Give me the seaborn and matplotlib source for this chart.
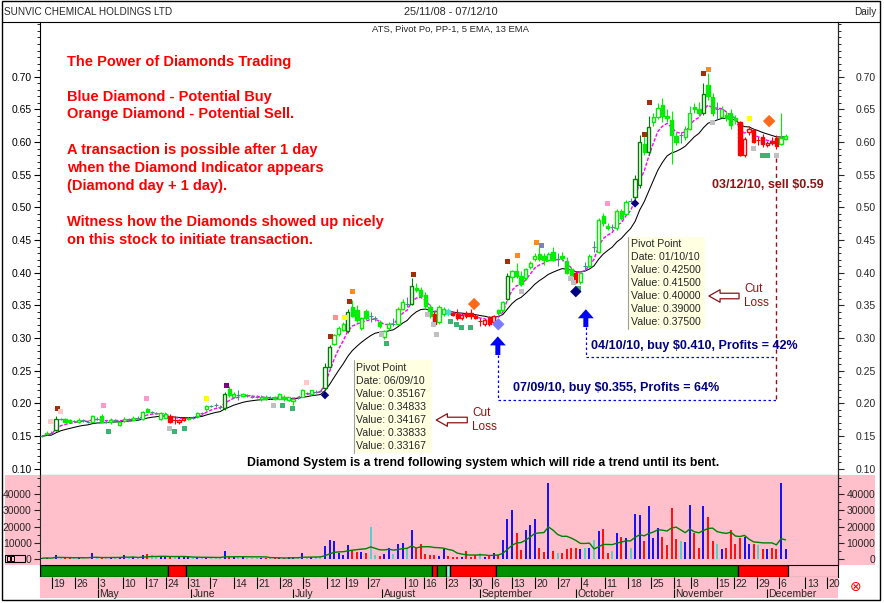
import numpy as np
import pandas as pd
import matplotlib
matplotlib.use("Agg")
import matplotlib.pyplot as plt
from matplotlib.patches import Rectangle
from matplotlib.lines import Line2D
from matplotlib.ticker import MultipleLocator, FixedLocator, FormatStrFormatter
import seaborn as sns

# daily candles, one per trading day (15/04/10 .. 07/12/10)
opens = [
    .149, .153, .155, .159, .176, .176, .175, .173, .171, .174,
    .172, .172, .176, .180, .172, .171, .174, .167, .173, .176,
    .175, .178, .176, .191, .186, .185, .176, .178, .180, .175,
    .171, .175, .176, .178, .180, .185, .191, .196, .197, .195,
    .193, .222, .210, .212, .211, .212, .210, .210, .206, .210,
    .208, .209, .207, .210, .205, .203, .209, .210, .216, .214,
    .218, .219, .223, .256, .291, .306, .313, .310, .347, .343,
    .315, .342, .333, .330, .325, .302, .316, .322, .322, .345,
    .352, .352, .377, .374, .366, .348, .336, .324, .336, .343,
    .338, .336, .331, .338, .338, .334, .326, .322, .331, .325,
    .343, .343, .360, .394, .403, .395, .392, .409, .421, .428,
    .426, .420, .432, .421, .426, .418, .405, .400, .385, .410,
    .410, .440, .432, .487, .472, .470, .468, .494, .490, .510,
    .516, .534, .597, .585, .631, .638, .657, .640, .634, .609,
    .610, .607, .620, .654, .651, .644, .688, .669, .650, .639,
    .641, .644, .637, .631, .580, .615, .618, .603, .607, .595,
    .602, .606, .597, .605,
]
highs = [
    .151, .157, .158, .180, .178, .178, .176, .175, .177, .176,
    .174, .182, .179, .184, .175, .177, .176, .173, .179, .178,
    .180, .181, .188, .193, .188, .187, .187, .186, .184, .180,
    .176, .178, .179, .180, .186, .187, .198, .198, .200, .198,
    .218, .226, .217, .220, .216, .214, .212, .212, .212, .212,
    .211, .211, .216, .212, .210, .208, .211, .222, .218, .221,
    .220, .221, .262, .290, .306, .318, .324, .345, .358, .350,
    .332, .345, .340, .333, .327, .313, .324, .330, .348, .360,
    .362, .392, .384, .378, .370, .352, .340, .350, .348, .346,
    .340, .344, .338, .342, .345, .336, .330, .329, .334, .335,
    .345, .357, .400, .404, .415, .402, .407, .418, .430, .446,
    .430, .432, .440, .430, .432, .424, .408, .403, .403, .416,
    .428, .448, .484, .492, .476, .475, .498, .498, .512, .515,
    .550, .610, .612, .640, .645, .660, .668, .650, .647, .615,
    .615, .625, .655, .660, .662, .690, .705, .675, .662, .655,
    .648, .650, .642, .632, .607, .625, .620, .608, .612, .602,
    .607, .610, .644, .612,
]
lows = [
    .148, .152, .153, .157, .174, .171, .171, .171, .170, .172,
    .170, .171, .174, .171, .170, .169, .172, .165, .172, .175,
    .174, .176, .175, .186, .184, .183, .175, .177, .170, .168,
    .169, .173, .175, .176, .178, .183, .189, .194, .195, .192,
    .190, .210, .208, .205, .209, .210, .208, .208, .204, .205,
    .206, .205, .206, .204, .203, .197, .207, .209, .214, .213,
    .216, .217, .221, .254, .289, .303, .311, .308, .332, .325,
    .312, .328, .325, .326, .316, .298, .313, .318, .320, .343,
    .348, .350, .370, .362, .345, .330, .318, .322, .333, .334,
    .333, .328, .328, .330, .329, .329, .318, .318, .318, .323,
    .335, .341, .358, .385, .392, .380, .389, .405, .418, .418,
    .412, .418, .418, .410, .418, .398, .392, .384, .383, .402,
    .408, .432, .430, .472, .465, .466, .466, .480, .488, .506,
    .513, .530, .580, .580, .625, .635, .630, .630, .566, .595,
    .598, .603, .618, .645, .640, .642, .665, .640, .635, .636,
    .632, .620, .628, .578, .577, .610, .598, .595, .592, .592,
    .595, .590, .595, .603,
]
closes = [
    .150, .155, .155, .176, .176, .172, .172, .173, .175, .174,
    .172, .180, .176, .172, .172, .175, .174, .172, .176, .176,
    .178, .178, .186, .187, .186, .185, .185, .184, .172, .175,
    .175, .177, .178, .178, .185, .185, .196, .196, .197, .195,
    .215, .212, .215, .212, .215, .212, .210, .210, .209, .207,
    .208, .207, .214, .206, .209, .206, .209, .220, .216, .220,
    .218, .219, .255, .286, .305, .315, .321, .340, .334, .327,
    .330, .330, .333, .330, .318, .311, .322, .322, .345, .355,
    .352, .380, .373, .365, .349, .333, .322, .348, .344, .337,
    .335, .331, .335, .333, .333, .330, .326, .327, .322, .333,
    .338, .355, .395, .402, .395, .383, .405, .415, .426, .421,
    .420, .428, .420, .421, .422, .400, .395, .386, .400, .410,
    .425, .440, .480, .476, .468, .470, .495, .484, .508, .510,
    .544, .600, .585, .623, .639, .652, .640, .637, .611, .600,
    .610, .620, .644, .651, .645, .674, .670, .645, .650, .650,
    .636, .626, .633, .580, .605, .620, .600, .603, .597, .599,
    .598, .594, .606, .609,
]
volumes = [
    500, 800, 300, 2500, 600, 800, 500, 400, 1000, 400,
    300, 3500, 500, 1000, 600, 800, 500, 1000, 2500, 600,
    1200, 800, 2500, 3000, 2500, 1000, 1500, 1000, 1000, 1000,
    1000, 1000, 1200, 800, 1500, 800, 1000, 600, 800, 700,
    5000, 1000, 1500, 1500, 1000, 500, 800, 600, 500, 600,
    800, 500, 600, 700, 1000, 1500, 1000, 3500, 1000, 1200,
    1500, 1000, 8000, 11500, 11000, 4000, 2500, 8500, 5500, 4500,
    4500, 3500, 19500, 2500, 2000, 3000, 7000, 3000, 9000, 10000,
    6500, 18000, 7000, 9500, 3000, 2500, 2500, 2000, 6000, 2000,
    1000, 1000, 1000, 5000, 1500, 2500, 3500, 1500, 2500, 3500,
    2500, 11800, 25000, 30000, 16000, 5500, 18000, 21000, 24500, 7000,
    4500, 47000, 5000, 3500, 4000, 6000, 7000, 6500, 6000, 6500,
    6500, 11500, 17500, 18500, 4000, 5000, 16000, 13500, 12800, 7000,
    28000, 27500, 11000, 33000, 12800, 19000, 13500, 8500, 31500, 12300,
    11000, 10300, 33500, 16000, 6500, 33000, 26000, 11000, 9500, 6000,
    6500, 18000, 9500, 12800, 13500, 9500, 9300, 8500, 6000, 6000,
    6500, 6000, 47000, 6000,
]

# trend state (ATS): g = up, r = down, a = neutral
candle_runs = [("g", 28), ("r", 4), ("g", 54), ("r", 1), ("g", 2), ("a", 1), ("r", 10),
               ("g", 17), ("r", 1), ("g", 35), ("r", 9), ("g", 2)]
band_runs = [("g", 28), ("r", 4), ("g", 54), ("r", 1), ("g", 2), ("a", 1), ("r", 10),
             ("g", 53), ("r", 11)]
dark_candles = [3, 40, 62, 63, 67, 81, 102, 130, 131, 133, 145]

# pivot markers
mark_slots = [3.3, 4.1, 1.9, 13.5, 14.6, 22.8, 27.9, 29.1, 31.1, 36.1,
              40.4, 50.6, 52.6, 54.8, 57.9, 63.1, 64.2, 66.2, 67.3, 68.0,
              74.3, 75.4, 81.5, 84.5, 85.7, 86.5, 89.5, 90.8, 91.9, 93.8,
              102.1, 104.3, 105.2, 108.4, 109.5, 115.8, 116.5, 117.7, 123.9, 132.1,
              133.2, 145.1, 146.0, 147.0, 155.0, 156.0, 158.0, 159.0, 161.0]
mark_prices = [.192, .188, .172, .197, .157, .208, .162, .157, .162, .208,
               .2276, .197, .197, .192, .232, .3026, .332, .332, .356, .3715,
               .3057, .292, .3975, .336, .3214, .3057, .326, .3214, .3164, .3164,
               .4174, .427, .3715, .4465, .442, .391, .3853, .3755, .506, .612,
               .661, .705, .711, .630, .636, .590, .580, .580, .580]
mark_kinds = ["brown", "lpink", "lpink", "pink", "sgreen", "pink", "grey", "sgreen", "sgreen", "yellow",
              "purple", "grey", "sgreen", "sgreen", "lpink", "brown", "salmon", "yellow", "brown", "orange",
              "grey", "sgreen", "brown", "grey", "grey", "grey", "sgreen", "sgreen", "sgreen", "sgreen",
              "brown", "orange", "grey", "orange", "slate", "grey", "grey", "sgreen", "pink", "brown",
              "brown", "brown", "orange", "grey", "yellow", "grey", "sgreen", "sgreen", "grey"]

# diamond signals
diamond_slots = [62, 100, 117, 130, 94.7, 159.4]
diamond_prices = [.2125, .321, .371, .506, .352, .632]
diamond_kinds = ["buy", "buy_light", "buy", "buy", "sell", "sell"]
diamond_sizes = [18, 40, 34, 18, 40, 40]

week_labels = ["19", "26", "3", "10", "17", "24", "31", "7", "14", "21", "28", "5", "12", "19",
               "27", "10", "16", "23", "30", "6", "13", "20", "27", "4", "11", "18", "25", "1",
               "8", "15", "22", "29", "6", "13", "20"]
week_slots = [2.1, 7.2, 12.2, 17.6, 22.7, 27.1, 32.0, 36.8, 42.0, 47.0, 52.1, 57.2, 62.5, 66.6,
              71.5, 79.6, 83.7, 88.5, 93.8, 98.6, 103.0, 108.1, 113.1, 118.1, 123.4, 128.5, 133.5,
              138.5, 142.3, 147.9, 151.7, 156.7, 161.6, 167.3, 172.1]
month_labels = ["May", "June", "July", "August", "September", "October", "November", "December"]
month_slots = [12.2, 32.6, 55.0, 74.5, 96.0, 117.1, 138.5, 158.9]

price_ticks = [0.10, 0.15, 0.20, 0.25, 0.30, 0.35, 0.40, 0.45, 0.50, 0.55, 0.60, 0.65, 0.70]
volume_ticks = [0, 10000, 20000, 30000, 40000]

notes = ["The Power of Diamonds Trading", "Blue Diamond - Potential Buy",
         "Orange Diamond - Potential Sell.", "A transaction is possible after 1 day",
         "when the Diamond Indicator appears", "(Diamond day + 1 day).",
         "Witness how the Diamonds showed up nicely", "on this stock to initiate transaction."]
note_y = [.7225, .669, .643, .5878, .5602, .5327, .4776, .450]
pivot1 = ["Pivot Point", "Date: 06/09/10", "Value: 0.35167", "Value: 0.34833",
          "Value: 0.34167", "Value: 0.33833", "Value: 0.33167"]
pivot2 = ["Pivot Point", "Date: 01/10/10", "Value: 0.42500", "Value: 0.41500",
          "Value: 0.40000", "Value: 0.39000", "Value: 0.37500"]

COL = {"g": "#00ee00", "r": "#ff0000", "a": "#40e0d0"}
BAND = {"g": "#009000", "r": "#ff0000", "a": "#80ffd8"}
MARK_COL = {"brown": "#a03008", "lpink": "#ffc8c8", "pink": "#ff99cc", "salmon": "#ff9090",
            "sgreen": "#3cb371", "grey": "#c0c0c0", "yellow": "#ffff00", "purple": "#800080",
            "orange": "#ff8c1a", "slate": "#8080c0"}
DIA_COL = {"buy": "#000080", "buy_light": "#7b7bff", "sell": "#ff6a1a"}
PINK = "#ffc0cb"
MAROON = "#8b1414"
NAVY = "#000080"


def expand(runs):
    out = []
    for s, n in runs:
        out += [s] * n
    return out


df = pd.DataFrame({"open": opens, "high": highs, "low": lows, "close": closes, "volume": volumes})
df["slot"] = np.arange(len(df))
df["state"] = expand(candle_runs)
df["ema5"] = df["close"].ewm(span=5, adjust=False).mean()
df["ema13"] = df["close"].ewm(span=13, adjust=False).mean()
df["vol_ma"] = df["volume"].rolling(10, min_periods=1).mean()
body = df["close"] - df["open"]
doji = body.abs() < 0.0015

edge = []
for i, r in df.iterrows():
    if doji[i] and r["state"] == "g":
        edge.append("#4a8a8a")
    elif r["state"] == "g" and i in dark_candles:
        edge.append("#008000")
    else:
        edge.append(COL[r["state"]])
df["edge"] = edge
df["fill"] = np.where(df["close"] < df["open"], df["edge"], "white")
df["vcol"] = np.where(df["close"] > df["open"], "#0000ff",
                      np.where(df["close"] < df["open"], "#ff0000", "#48d1cc"))

sns.set_theme(style="white")
plt.rcParams["font.family"] = ["Liberation Sans", "DejaVu Sans"]
plt.rcParams["axes.linewidth"] = 0.8

W, H = 884, 603
fig = plt.figure(figsize=(W / 100, H / 100), dpi=100)


def px_axes(x0, y0, x1, y1):
    return fig.add_axes([x0 / W, 1 - y1 / H, (x1 - x0) / W, (y1 - y0) / H])


XLIM = (-0.5, 174.5)

# ---------------- price panel ----------------
ax = px_axes(40, 22, 838, 475)
ax.set_xlim(*XLIM)
ax.set_ylim(0.0903, 0.7837)

sns.lineplot(data=df, x="slot", y="ema13", color="black", lw=0.75, ax=ax, zorder=2)
sns.lineplot(data=df, x="slot", y="ema5", color="#ff00ff", lw=1.0, ax=ax, zorder=2,
             linestyle=(0, (2.5, 1.2)))

ax.vlines(df["slot"], df["low"], df["high"], colors=df["edge"], lw=0.8, zorder=3)
nd = ~doji
ax.bar(df["slot"][nd], body.abs()[nd], bottom=np.minimum(df["open"], df["close"])[nd],
       width=0.72, color=df["fill"][nd], edgecolor=df["edge"][nd], linewidth=1.0, zorder=4)
ax.hlines(df["close"][doji], df["slot"][doji] - 0.45, df["slot"][doji] + 0.45,
          colors=df["edge"][doji], lw=0.8, zorder=4)

sns.scatterplot(x=mark_slots, y=mark_prices, hue=mark_kinds, palette=MARK_COL, marker="s",
                s=13, linewidth=0, legend=False, ax=ax, zorder=5)
sns.scatterplot(x=diamond_slots, y=diamond_prices, hue=diamond_kinds, palette=DIA_COL,
                size=diamond_sizes, sizes=(18, 40), marker="D", linewidth=0, legend=False,
                ax=ax, zorder=6)

ax.set_xlabel("")
ax.set_ylabel("")
ax.set_xticks([])
ax.yaxis.set_major_locator(FixedLocator(price_ticks))
ax.yaxis.set_minor_locator(MultipleLocator(0.01))
ax.yaxis.set_major_formatter(FormatStrFormatter("%.2f"))
ax.tick_params(axis="y", which="major", left=True, length=4, width=0.8, pad=2,
               labelsize=7.5, colors="black", direction="out")
ax.tick_params(axis="y", which="minor", left=True, length=2, width=0.7, direction="out")
ax.spines["top"].set_visible(False)
for s in ("left", "right", "bottom"):
    ax.spines[s].set_color("black")

axr = ax.twinx()
axr.set_ylim(ax.get_ylim())
axr.yaxis.set_major_locator(FixedLocator(price_ticks))
axr.yaxis.set_minor_locator(MultipleLocator(0.01))
axr.yaxis.set_major_formatter(FormatStrFormatter("%.2f"))
axr.tick_params(axis="y", which="major", right=True, length=4, width=0.8, pad=23,
                labelsize=7.5, direction="out")
axr.tick_params(axis="y", which="minor", right=True, length=2, width=0.7, direction="out")
for t in axr.get_yticklabels():
    t.set_ha("right")
for s in ("top", "left", "bottom"):
    axr.spines[s].set_visible(False)
axr.grid(False)

# text notes
for line, yv in zip(notes, note_y):
    ax.text(5.4, yv, line, color="red", fontsize=10.5, fontweight="bold", va="center", zorder=7)
ax.text(96.7, 0.1087, "Diamond System is a trend following system which will ride a trend until its bent.",
        fontsize=8.8, fontweight="bold", ha="center", va="center", color="black", zorder=7)

# pivot boxes
for (x0, x1, y0, y1, y_first, lines) in [(68.4, 85.5, .124, .2663, .2536, pivot1),
                                         (128.5, 145.3, .3142, .4541, .4439, pivot2)]:
    ax.add_patch(Rectangle((x0, y0), x1 - x0, y1 - y0, facecolor="#ffffe1", edgecolor="none", zorder=6))
    ax.plot([x0, x0], [y0, y1], color="#a0a0a0", lw=0.8, zorder=6)
    for k, line in enumerate(lines):
        ax.text(x0 + 0.5, y_first - k * 0.0199, line, fontsize=7.6, va="center", zorder=7)

# cut loss arrows
for tip, tail, ytxt in [((86.4, .1745), (93.2, .1745), (.1852, .1638)),
                        ((146.2, .3643), (152.8, .3643), (.375, .3536))]:
    ax.annotate("", xy=tip, xytext=tail,
                arrowprops=dict(facecolor="white", edgecolor=MAROON, width=4.0, headwidth=9,
                                headlength=8, lw=0.9), zorder=7)
    ax.text(tail[0] + 1.1, ytxt[0], "Cut", color=MAROON, fontsize=8.5, va="center", zorder=7)
    ax.text(tail[0] + 1.1, ytxt[1], "Loss", color=MAROON, fontsize=8.5, va="center", zorder=7)

# buy arrows and trade lines
for xa, ytip, ytail, yline in [(99.9, .3025, .274, .2055), (119.2, .344, .3168, .271)]:
    ax.annotate("", xy=(xa, ytip), xytext=(xa, ytail),
                arrowprops=dict(facecolor="#0000ff", edgecolor="#0000ff", width=3.6, headwidth=11.5,
                                headlength=6.5, lw=0), zorder=7)
    ax.plot([xa, xa, 160.9], [ytail, yline, yline], color="#0000ff", lw=0.9,
            linestyle=(0, (2, 2)), zorder=6)
ax.plot([160.9, 160.9], [.575, .2055], color=MAROON, lw=1.0, linestyle=(0, (3, 2.5)), zorder=6)
ax.text(146.9, .534, "03/12/10, sell $0.59", color=MAROON, fontsize=9, fontweight="bold",
        va="center", zorder=7)
ax.text(120.3, .2878, "04/10/10, buy $0.410, Profits = 42%", color=NAVY, fontsize=9,
        fontweight="bold", va="center", zorder=7)
ax.text(103.3, .223, "07/09/10, buy $0.355, Profits = 64%", color=NAVY, fontsize=9,
        fontweight="bold", va="center", zorder=7)

# ---------------- volume panel ----------------
fig.add_artist(Rectangle((5 / W, 1 - 565 / H), 870 / W, 90 / H, transform=fig.transFigure,
                         facecolor=PINK, edgecolor="none", zorder=0))
av = px_axes(40, 475, 838, 565)
av.set_facecolor(PINK)
av.set_xlim(*XLIM)
av.set_ylim(-3709, 51932)
av.vlines(df["slot"], 0, df["volume"], colors=df["vcol"], lw=1.3, zorder=3)
sns.lineplot(data=df, x="slot", y="vol_ma", color="#008000", lw=1.0, ax=av, zorder=4)
av.set_xlabel("")
av.set_ylabel("")
av.set_xticks([])
av.set_yticks(volume_ticks)
av.yaxis.set_minor_locator(MultipleLocator(5000))
av.tick_params(axis="y", which="major", left=True, length=4, width=0.8, pad=2, labelsize=7.5,
               direction="out")
av.tick_params(axis="y", which="minor", left=True, length=2, width=0.7, direction="out")
av.spines["top"].set_visible(False)
av.spines["bottom"].set_visible(False)

avr = av.twinx()
avr.set_ylim(av.get_ylim())
avr.set_yticks(volume_ticks)
avr.yaxis.set_minor_locator(MultipleLocator(5000))
avr.tick_params(axis="y", which="major", right=True, length=4, width=0.8, pad=23, labelsize=7.5,
                direction="out")
avr.tick_params(axis="y", which="minor", right=True, length=2, width=0.7, direction="out")
for t in avr.get_yticklabels():
    t.set_ha("right")
for s in ("top", "left", "bottom"):
    avr.spines[s].set_visible(False)
avr.grid(False)

# ---------------- trend band and date rows ----------------
ab = px_axes(40, 565, 838, 577)
ab.set_facecolor(PINK)
ab.set_xlim(*XLIM)
ab.set_ylim(0, 1)
start = -0.5
for s, n in band_runs:
    ab.add_patch(Rectangle((start, 0), n, 1, facecolor=BAND[s], edgecolor="black", lw=0.9))
    start += n
ab.set_xticks([])
ab.set_yticks([])
for s in ab.spines.values():
    s.set_color("black")

ad = px_axes(40, 577, 838, 589)
ad.set_facecolor(PINK)
ad.set_xlim(*XLIM)
ad.set_ylim(0, 1)
ad.vlines(week_slots, 0, 1, colors="black", lw=0.8)
for lab, xs in zip(week_labels, week_slots):
    ad.text(xs + 0.35, 0.45, lab, fontsize=7.5, va="center", ha="left")
ad.set_xticks([])
ad.set_yticks([])
for s in ad.spines.values():
    s.set_visible(False)

am = px_axes(40, 589, 838, 598)
am.set_facecolor(PINK)
am.set_xlim(*XLIM)
am.set_ylim(0, 1)
am.vlines(month_slots, 0, 1, colors="black", lw=0.8)
for lab, xs in zip(month_labels, month_slots):
    am.text(xs + 0.35, 0.45, lab, fontsize=7.5, va="center", ha="left")
am.set_xticks([])
am.set_yticks([])
for s in am.spines.values():
    s.set_visible(False)

# ---------------- frame and header ----------------
fig.add_artist(Rectangle((2 / W, 1 - 600 / H), 878 / W, 599 / H, transform=fig.transFigure,
                         fill=False, edgecolor="black", lw=1.0))
fig.add_artist(Line2D([2 / W, 880 / W], [1 - 22 / H] * 2, color="black", lw=0.8))
fig.text(4 / W, 1 - 12 / H, "SUNVIC CHEMICAL HOLDINGS LTD", fontsize=7.2, va="center")
fig.text(451 / W, 1 - 12 / H, "25/11/08 - 07/12/10", fontsize=7.8, va="center", ha="center")
fig.text(876 / W, 1 - 12 / H, "Daily", fontsize=7.2, va="center", ha="right")
fig.text(451 / W, 1 - 29 / H, "ATS, Pivot Po, PP-1, 5 EMA, 13 EMA", fontsize=6.8,
         va="center", ha="center")

# small scale button and close icon
fig.add_artist(Rectangle((5 / W, 1 - 562 / H), 20 / W, 7 / H, transform=fig.transFigure,
                         facecolor=PINK, edgecolor="black", lw=0.8))
for bx in (7, 11):
    fig.add_artist(Rectangle((bx / W, 1 - 561 / H), 3 / W, 5 / H, transform=fig.transFigure,
                             facecolor="none", edgecolor="black", lw=0.7))
fig.text(856 / W, 1 - 587 / H, "\u2297", color="red", fontsize=10, family="DejaVu Sans",
         ha="center", va="center")

fig.savefig("out.png", dpi=100)
